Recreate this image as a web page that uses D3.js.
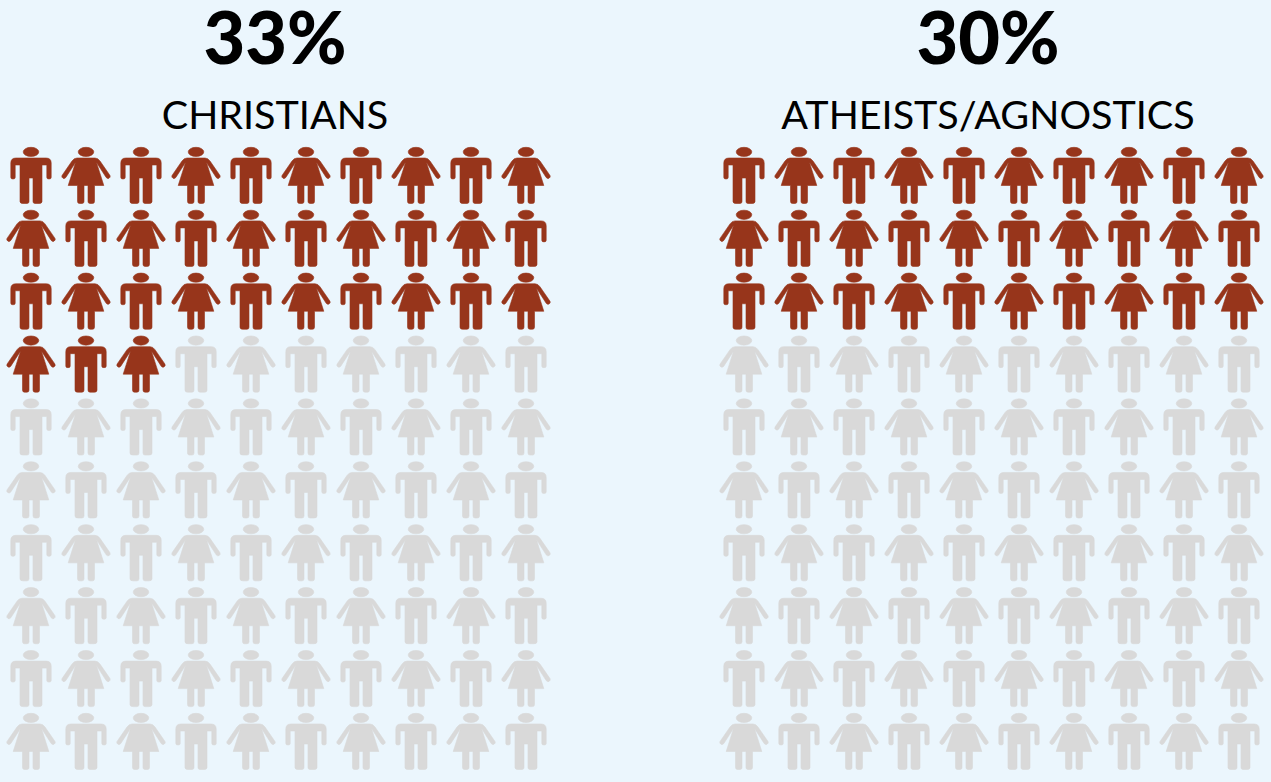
<!DOCTYPE html>
<html>
<head>
<meta charset="utf-8">
<script src="https://cdn.jsdelivr.net/npm/d3@7"></script>
<style>
html, body { margin: 0; padding: 0; background: #ebf6fd; }
svg { display: block; }
text { font-family: Lato, "Open Sans", sans-serif; fill: #000; text-anchor: middle; }
</style>
</head>
<body>
<div id="chart"></div>
<script>
const groups = ["CHRISTIANS", "ATHEISTS/AGNOSTICS"];
const percents = [33, 30];
const columns = d3.range(10);
const rows = d3.range(10);

const width = 1271, height = 782;

const svg = d3.select("#chart").append("svg")
    .attr("width", width)
    .attr("height", height);

// where each of the two panels sits
const panel = d3.scaleOrdinal().domain(groups).range([0, 713]);
const x = d3.scalePoint().domain(columns).range([31, 526]);
const y = d3.scalePoint().domain(rows).range([147, 713]);

// icon outlines, origin at middle of head top
const headPath = "M-7.8,4.9a7.8,4.6 0 1,0 15.6,0a7.8,4.6 0 1,0 -15.6,0Z";
const manPath = headPath +
    "M-15,11L15,11Q20.2,11 20.2,16L20.2,30.5Q20.2,32 18,32Q15.8,32 15.8,30.5L15.8,18" +
    "L11,18L11,54.5Q11,56.5 8,56.5L4,56.5Q2,56.5 2,54.5L2,31L-2,31L-2,54.5Q-2,56.5 -4,56.5L-8,56.5Q-11,56.5 -11,54.5L-11,18" +
    "L-15.8,18L-15.8,30.5Q-15.8,32 -18,32Q-20.2,32 -20.2,30.5L-20.2,16Q-20.2,11 -15,11Z";
const womanPath = headPath +
    "M-9,11L9,11Q12,11 14,14L24,28.5Q24.8,30.3 23,31.3Q21.3,32 20.2,30.5L10.5,15.5" +
    "L17.8,38.5L8.5,38.5L8.5,54.5Q8.5,56.5 6.5,56.5L4,56.5Q2,56.5 2,54.5L2,38.5L-2,38.5L-2,54.5Q-2,56.5 -4,56.5L-6.5,56.5Q-8.5,56.5 -8.5,54.5L-8.5,38.5" +
    "L-17.8,38.5L-10.5,15.5L-20.2,30.5Q-21.3,32 -23,31.3Q-24.8,30.3 -24,28.5L-14,14Q-12,11 -9,11Z";

groups.forEach(function(name, k) {
    const g = svg.append("g").attr("transform", "translate(" + panel(name) + ",0)");

    g.append("text")
        .attr("x", 275)
        .attr("y", 63.5)
        .style("font-size", "72px")
        .style("font-weight", 900)
        .text(percents[k] + "%");

    g.append("text")
        .attr("x", 275)
        .attr("y", 128.5)
        .style("font-size", "39.5px")
        .text(name);

    const cells = d3.cross(rows, columns).map(function(d, i) {
        return {row: d[0], col: d[1], on: i < percents[k]};
    });

    g.selectAll("path")
        .data(cells)
        .join("path")
        .attr("transform", d => "translate(" + x(d.col) + "," + y(d.row) + ")")
        .attr("d", d => (d.row + d.col) % 2 == 0 ? manPath : womanPath)
        .attr("fill", d => d.on ? "#97351b" : "#d9d9d9")
        .attr("stroke", d => d.on ? "#97351b" : "#d9d9d9")
        .attr("stroke-width", 0.6)
        .attr("stroke-linejoin", "round");
});
</script>
</body>
</html>
